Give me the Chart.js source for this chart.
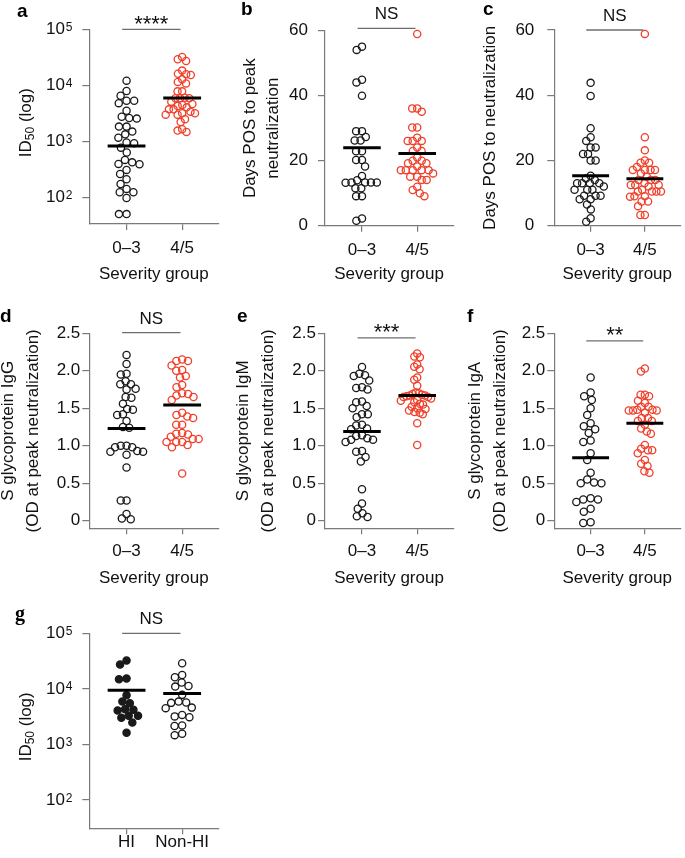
<!DOCTYPE html>
<html><head><meta charset="utf-8">
<script src="https://cdn.jsdelivr.net/npm/chart.js@4"></script>
<style>
html,body{margin:0;padding:0;background:#fff;}
body{width:685px;height:858px;position:relative;overflow:hidden;}
canvas{position:absolute;}
</style></head><body>
<canvas id="pa"></canvas><canvas id="pb"></canvas><canvas id="pc"></canvas>
<canvas id="pd"></canvas><canvas id="pe"></canvas><canvas id="pf"></canvas>
<canvas id="pg"></canvas>
<script>
// ---------- data ----------
const severityGroups = ['0–3', '4/5'];
const hiGroups = ['HI', 'Non-HI'];

const id50Mild = [12100, 7900, 6500, 5300, 5300, 4800, 3500, 2750, 2600, 2540, 1830, 1830, 1490, 1330, 1160, 950, 920, 770, 630, 465, 420, 394, 388, 308, 261, 210, 173, 141, 123, 123, 97, 50, 50];
const id50Severe = [32000, 29100, 27200, 18300, 16100, 15700, 15300, 12800, 11500, 10800, 7800, 7800, 6000, 5850, 5850, 5850, 5100, 4640, 4450, 4270, 4040, 3720, 3720, 3380, 3160, 3160, 2990, 2990, 2470, 2210, 1640, 1550, 1470];
const medianId50 = [826, 5900];

const daysPeakMild = [55.1, 54.1, 44.9, 44.1, 40, 29.1, 29.1, 27.3, 26.2, 26.2, 22.9, 22.9, 20.2, 20.2, 18.2, 15.3, 14, 13.3, 13.3, 13.3, 13.3, 13.2, 11.5, 11.5, 9.1, 9.1, 2.2, 1.5];
const daysPeakSevere = [59, 36.1, 36.1, 35.1, 30.2, 30.2, 27.1, 26.1, 26.1, 26.1, 24.1, 23, 23, 21, 20, 20, 19.2, 19.2, 18.2, 17.1, 17.1, 17.1, 17.1, 17.1, 16.1, 15.1, 15.1, 14.1, 14.1, 12, 11, 10, 9.1];
const medianDaysPeak = [24, 22.2];

const daysNeutMild = [43.8, 39.8, 29.9, 27.1, 26, 24, 24, 22, 22, 20, 20, 15.3, 14.5, 14, 13, 13, 13, 13, 12, 11, 11, 11, 9.2, 9.2, 9.2, 8.1, 8.1, 6.5, 5, 2.3, 1.2];
const daysNeutSevere = [58.8, 27.1, 23.1, 20, 19.3, 19.3, 18, 17.1, 17.1, 17.1, 17.1, 16, 15, 14, 14, 14, 13, 12.5, 12.5, 12.5, 12, 11, 10.5, 10.5, 10.5, 10.5, 9, 9, 8.9, 7.4, 7.4, 6, 3.3, 3.3];
const medianDaysNeut = [15.3, 14.4];

const iggMild = [2.21, 2.09, 1.96, 1.95, 1.86, 1.82, 1.82, 1.76, 1.75, 1.65, 1.64, 1.56, 1.49, 1.48, 1.42, 1.41, 1.33, 1.25, 1.24, 1.0, 1.0, 0.98, 0.98, 0.93, 0.92, 0.92, 0.88, 0.71, 0.27, 0.27, 0.09, 0.03, 0.02];
const iggSevere = [2.15, 2.13, 2.13, 2.07, 2.01, 2.0, 1.93, 1.91, 1.81, 1.78, 1.70, 1.69, 1.67, 1.65, 1.61, 1.44, 1.41, 1.39, 1.37, 1.28, 1.28, 1.17, 1.16, 1.15, 1.12, 1.09, 1.09, 1.05, 1.05, 1.05, 1.01, 0.98, 0.63];
const medianIgg = [1.23, 1.545];

const igmMild = [2.05, 1.96, 1.94, 1.93, 1.87, 1.78, 1.77, 1.75, 1.59, 1.58, 1.53, 1.50, 1.42, 1.42, 1.38, 1.28, 1.27, 1.23, 1.22, 1.14, 1.13, 1.10, 1.08, 1.08, 1.05, 0.93, 0.92, 0.85, 0.79, 0.42, 0.23, 0.16, 0.10, 0.06, 0.05];
const igmSevere = [2.23, 2.19, 2.18, 2.085, 2.055, 2.02, 1.91, 1.88, 1.80, 1.71, 1.70, 1.69, 1.68, 1.67, 1.67, 1.66, 1.65, 1.65, 1.63, 1.61, 1.60, 1.58, 1.56, 1.55, 1.52, 1.50, 1.49, 1.47, 1.45, 1.44, 1.42, 1.30, 1.01];
const medianIgm = [1.19, 1.67];

const igaMild = [1.91, 1.71, 1.66, 1.61, 1.50, 1.41, 1.30, 1.26, 1.22, 1.17, 1.07, 1.05, 0.90, 0.81, 0.64, 0.55, 0.51, 0.50, 0.50, 0.30, 0.285, 0.285, 0.25, 0.16, 0.12, -0.02, -0.03];
const igaSevere = [2.03, 1.99, 1.68, 1.68, 1.66, 1.60, 1.57, 1.52, 1.52, 1.48, 1.48, 1.47, 1.47, 1.47, 1.44, 1.37, 1.37, 1.33, 1.33, 1.28, 1.23, 1.19, 1.16, 1.01, 0.96, 0.94, 0.94, 0.90, 0.81, 0.76, 0.73, 0.66, 0.64];
const medianIga = [0.84, 1.30];

const id50HI = [32300, 27400, 15300, 14900, 7700, 5920, 5540, 4320, 4200, 4090, 3270, 3270, 3010, 2480, 1620];
const id50NonHI = [28900, 17800, 16200, 13000, 11300, 11000, 7800, 5900, 5700, 5600, 4600, 4500, 3400, 3200, 3100, 2200, 2150, 1560, 1470];
const medianHI = [9460, 8250];

const logTicks = [100, 1000, 10000, 100000];
const logTickBase = '10';
const logTickExponents = ['2', '3', '4', '5'];
const dayTicks = [0, 20, 40, 60];
const dayTickLabels = ['0', '20', '40', '60'];
const odTicks = [0, 0.5, 1, 1.5, 2, 2.5];
const odTickLabels = ['0', '0.5', '1.0', '1.5', '2.0', '2.5'];

const sigLabels = ['****', 'NS', 'NS', 'NS', '***', '**', 'NS'];
const sigLevels = [100000, 60.7, 60, 2.51, 2.44, 2.40, 100000];

// ---------- styles / geometry ----------
const BLACK = '#1a1a1a', RED = '#f0402b', AXIS = '#7a7a7a';
const FONT = "'Liberation Sans', Arial, Helvetica, sans-serif";
const PLOT_W = 129, X_MIN = -0.67, X_MAX = 1.65, SWARM_D = 7.6, SWARM_HALF = 16.5;
Chart.defaults.font.family = FONT;
Chart.defaults.font.size = 17;
Chart.defaults.color = '#111';

function swarm(values, toPx, D, maxHalf) {
  const idx = values.map((v, i) => i).sort((a, b) => toPx(values[a]) - toPx(values[b]));
  const placed = [], xs = new Array(values.length);
  for (const i of idx) {
    const y = toPx(values[i]);
    const near = placed.filter(p => Math.abs(p.y - y) < D);
    const cands = [0];
    near.forEach(p => { const dx = Math.sqrt(D * D - (p.y - y) ** 2); cands.push(p.x + dx, p.x - dx); });
    cands.sort((a, b) => Math.abs(a) - Math.abs(b) || a - b);
    let x = 0;
    for (const c of cands) {
      if (near.every(p => (p.x - c) ** 2 + (p.y - y) ** 2 >= D * D - 0.05)) { x = c; break; }
    }
    placed.push({ x, y }); xs[i] = x;
  }
  const m = Math.max(...xs.map(Math.abs));
  const k = m > maxHalf ? maxHalf / m : 1;
  return xs.map(v => v * k);
}

const sigPlugin = {
  id: 'sig',
  afterDraw(chart, args, o) {
    const { ctx } = chart, x = chart.scales.x, y = chart.scales.y, ca = chart.chartArea;
    ctx.save();
    // significance bar + label
    const yp = y.getPixelForValue(o.value);
    ctx.strokeStyle = '#6e6e6e'; ctx.lineWidth = 1.3;
    ctx.beginPath(); ctx.moveTo(x.getPixelForValue(-0.08), yp); ctx.lineTo(x.getPixelForValue(0.97), yp); ctx.stroke();
    const star = o.label.indexOf('*') >= 0;
    ctx.fillStyle = '#111'; ctx.textAlign = 'center'; ctx.textBaseline = 'alphabetic';
    ctx.font = (star ? '22px ' : '17px ') + FONT;
    ctx.fillText(o.label, x.getPixelForValue(0.445), yp + (star ? 1.5 : -9));
    // exponents of log tick labels
    if (o.exponents) {
      ctx.font = '12px ' + FONT; ctx.textAlign = 'left';
      o.ticks.forEach((t, i) => {
        ctx.fillText(o.exponents[i], ca.left - 23.6, y.getPixelForValue(t) + 1.5);
      });
    }
    // rich y title (ID50 with subscript)
    if (o.richTitle) {
      ctx.translate(o.richTitle.cx, (ca.top + ca.bottom) / 2 - 4);
      ctx.rotate(-Math.PI / 2);
      const segs = o.richTitle.segs;
      let total = 0;
      segs.forEach(s => { ctx.font = s.size + 'px ' + FONT; s.w = ctx.measureText(s.t).width; total += s.w; });
      let cx = -total / 2;
      ctx.textAlign = 'left';
      segs.forEach(s => { ctx.font = s.size + 'px ' + FONT; ctx.fillText(s.t, cx, 6 + (s.dy || 0)); cx += s.w; });
      ctx.setTransform(1, 0, 0, 1, 0, 0);
    }
    // panel letter
    ctx.font = o.letterFont; ctx.textAlign = 'left'; ctx.fillStyle = '#000';
    ctx.fillText(o.letter, o.lx, o.ly);
    ctx.restore();
  }
};

function buildPanel(cfg) {
  const b = cfg.box;
  const cv = document.getElementById(cfg.id);
  cv.width = b.w; cv.height = b.h;
  cv.style.left = b.left + 'px'; cv.style.top = b.top + 'px';
  cv.style.width = b.w + 'px'; cv.style.height = b.h + 'px';
  const plotH = b.h - b.padTop - b.xH;
  const isLog = cfg.yType === 'logarithmic';
  const L = Math.log10;
  const toPx = isLog ? v => (L(cfg.yMax) - L(v)) / (L(cfg.yMax) - L(cfg.yMin)) * plotH
                     : v => (cfg.yMax - v) / (cfg.yMax - cfg.yMin) * plotH;
  const pxPerUnit = PLOT_W / (X_MAX - X_MIN);
  const datasets = [];
  cfg.series.forEach((s, gi) => {
    const offs = swarm(s.values, toPx, SWARM_D, SWARM_HALF);
    const fill = s.filled ? s.color : 'rgba(0,0,0,0)';
    datasets.push({
      type: 'scatter',
      data: s.values.map((v, i) => ({ x: gi + offs[i] / pxPerUnit, y: v })),
      pointRadius: 3.6, radius: 3.6, pointBorderWidth: 1.3, borderWidth: 1.3,
      pointBorderColor: s.color, borderColor: s.color,
      pointBackgroundColor: fill, backgroundColor: fill,
      pointHoverRadius: 3.6, clip: false, order: 1
    });
    datasets.push({
      type: 'line',
      data: [{ x: gi - 0.34, y: cfg.medians[gi] }, { x: gi + 0.34, y: cfg.medians[gi] }],
      borderColor: '#000', borderWidth: 3, pointRadius: 0, borderCapStyle: 'butt',
      clip: false, order: -1
    });
  });
  const richTitle = cfg.yTitleRich ? { cx: cfg.yTitleX, segs: cfg.yTitleRich.map(s => ({ ...s })) } : null;
  new Chart(cv, {
    data: { datasets },
    plugins: [sigPlugin],
    options: {
      responsive: false, animation: false, events: [],
      layout: { padding: { top: b.padTop, right: b.w - b.yW - PLOT_W, left: 0, bottom: 0 } },
      plugins: {
        legend: { display: false }, tooltip: { enabled: false },
        sig: { label: cfg.sig, value: cfg.sigLevel, letter: cfg.letter, lx: cfg.lx, ly: cfg.ly,
               letterFont: cfg.letterFont || ('bold 19px ' + FONT),
               exponents: cfg.yTickExponents || null, ticks: cfg.yTicks, richTitle }
      },
      scales: {
        x: {
          type: 'linear', position: 'bottom', min: X_MIN, max: X_MAX,
          afterFit: s => { s.height = b.xH; },
          afterBuildTicks: s => { s.ticks = [{ value: 0 }, { value: 1 }]; },
          ticks: { callback: v => cfg.xLabels[v], padding: cfg.xTickPad, autoSkip: false, maxRotation: 0, minRotation: 0, color: '#111', font: { size: 17 } },
          grid: { drawOnChartArea: false, drawTicks: true, tickLength: 6, color: AXIS, lineWidth: 1.2 },
          border: { display: true, color: AXIS, width: 1.2 },
          title: cfg.xTitle ? { display: true, text: cfg.xTitle, color: '#111', font: { size: 17, lineHeight: 1.2 }, padding: { top: 0, bottom: cfg.xTitlePad } } : { display: false }
        },
        y: {
          type: cfg.yType, position: 'left', min: cfg.yMin, max: cfg.yMax,
          afterFit: s => { s.width = b.yW; },
          afterBuildTicks: s => { s.ticks = cfg.yTicks.map(v => ({ value: v })); },
          ticks: { callback: v => cfg.yTickLabels ? cfg.yTickLabels[cfg.yTicks.indexOf(v)] : logTickBase,
                   padding: cfg.yTickPad, autoSkip: false, color: '#111', font: { size: 17 } },
          grid: { drawOnChartArea: false, drawTicks: true, tickLength: 7, color: AXIS, lineWidth: 1.2 },
          border: { display: true, color: AXIS, width: 1.2 },
          title: cfg.yTitle ? { display: true, text: cfg.yTitle, color: '#111', font: { size: 17, lineHeight: cfg.yTitleLH }, padding: { top: cfg.yTitlePad, bottom: 0 } } : { display: false }
        }
      }
    }
  });
}

const row1 = { top: 0, h: 290 }, row2 = { top: 290, h: 310 }, row3 = { top: 590, h: 268 };
const col1 = { left: 0, w: 228, yW: 89.3 }, col2 = { left: 228, w: 230, yW: 97 }, col3 = { left: 458, w: 227, yW: 96.3 };
const id50TitleParts = [{ t: 'ID', size: 17 }, { t: '50', size: 12, dy: 2.5 }, { t: ' (log)', size: 17 }];

const panels = [
  { id: 'pa', box: { ...col1, ...row1, padTop: 29.3, xH: 66 }, yType: 'logarithmic', yMin: 33.3, yMax: 100000,
    yTicks: logTicks, yTickExponents: logTickExponents, yTickPad: 17.3, yTitleRich: id50TitleParts, yTitleX: 25,
    xLabels: severityGroups, xTickPad: 8, xTitle: 'Severity group', xTitlePad: 5,
    series: [{ values: id50Mild, color: BLACK }, { values: id50Severe, color: RED }], medians: medianId50,
    sig: sigLabels[0], sigLevel: sigLevels[0], letter: 'a', lx: 17, ly: 17 },
  { id: 'pb', box: { ...col2, ...row1, padTop: 30.7, xH: 64.3 }, yType: 'linear', yMin: 0, yMax: 60,
    yTicks: dayTicks, yTickLabels: dayTickLabels, yTickPad: 10, yTitle: ['Days POS to peak', 'neutralization'], yTitleLH: 1.4, yTitlePad: 10,
    xLabels: severityGroups, xTickPad: 8, xTitle: 'Severity group', xTitlePad: 5,
    series: [{ values: daysPeakMild, color: BLACK }, { values: daysPeakSevere, color: RED }], medians: medianDaysPeak,
    sig: sigLabels[1], sigLevel: sigLevels[1], letter: 'b', lx: 13, ly: 15 },
  { id: 'pc', box: { ...col3, ...row1, padTop: 30, xH: 64.3 }, yType: 'linear', yMin: 0, yMax: 60,
    yTicks: dayTicks, yTickLabels: dayTickLabels, yTickPad: 13, yTitle: 'Days POS to neutralization', yTitleLH: 1.4, yTitlePad: 20,
    xLabels: severityGroups, xTickPad: 8, xTitle: 'Severity group', xTitlePad: 5,
    series: [{ values: daysNeutMild, color: BLACK }, { values: daysNeutSevere, color: RED }], medians: medianDaysNeut,
    sig: sigLabels[2], sigLevel: sigLevels[2], letter: 'c', lx: 25, ly: 15 },
  { id: 'pd', box: { ...col1, ...row2, padTop: 43.3, xH: 71.7 }, yType: 'linear', yMin: -0.1, yMax: 2.5,
    yTicks: odTicks, yTickLabels: odTickLabels, yTickPad: 2, yTitle: ['S glycoprotein IgG', '(OD at peak neutralization)'], yTitleLH: 1.5, yTitlePad: -4.5,
    xLabels: severityGroups, xTickPad: 7, xTitle: 'Severity group', xTitlePad: 11,
    series: [{ values: iggMild, color: BLACK }, { values: iggSevere, color: RED }], medians: medianIgg,
    sig: sigLabels[3], sigLevel: sigLevels[3], letter: 'd', lx: 0, ly: 32 },
  { id: 'pe', box: { ...col2, ...row2, padTop: 43.3, xH: 71.7 }, yType: 'linear', yMin: -0.1, yMax: 2.5,
    yTicks: odTicks, yTickLabels: odTickLabels, yTickPad: 2, yTitle: ['S glycoprotein IgM', '(OD at peak neutralization)'], yTitleLH: 1.5, yTitlePad: 2.2,
    xLabels: severityGroups, xTickPad: 7, xTitle: 'Severity group', xTitlePad: 11,
    series: [{ values: igmMild, color: BLACK }, { values: igmSevere, color: RED }], medians: medianIgm,
    sig: sigLabels[4], sigLevel: sigLevels[4], letter: 'e', lx: 9, ly: 32 },
  { id: 'pf', box: { ...col3, ...row2, padTop: 43.3, xH: 71.7 }, yType: 'linear', yMin: -0.1, yMax: 2.5,
    yTicks: odTicks, yTickLabels: odTickLabels, yTickPad: 2, yTitle: ['S glycoprotein IgA', '(OD at peak neutralization)'], yTitleLH: 1.5, yTitlePad: 4.2,
    xLabels: severityGroups, xTickPad: 7, xTitle: 'Severity group', xTitlePad: 11,
    series: [{ values: igaMild, color: BLACK }, { values: igaSevere, color: RED }], medians: medianIga,
    sig: sigLabels[5], sigLevel: sigLevels[5], letter: 'f', lx: 9, ly: 32 },
  { id: 'pg', box: { ...col1, ...row3, padTop: 43.3, xH: 29.7 }, yType: 'logarithmic', yMin: 31, yMax: 100000,
    yTicks: logTicks, yTickExponents: logTickExponents, yTickPad: 17.3, yTitleRich: id50TitleParts, yTitleX: 25,
    xLabels: hiGroups, xTickPad: -2, xTitle: null, xTitlePad: 0,
    series: [{ values: id50HI, color: BLACK, filled: true }, { values: id50NonHI, color: BLACK }], medians: medianHI,
    sig: sigLabels[6], sigLevel: sigLevels[6], letter: 'g', lx: 15, ly: 30,
    letterFont: "bold 20px 'Liberation Serif', 'Times New Roman', serif" }
];
panels.forEach(buildPanel);
</script>
</body></html>
